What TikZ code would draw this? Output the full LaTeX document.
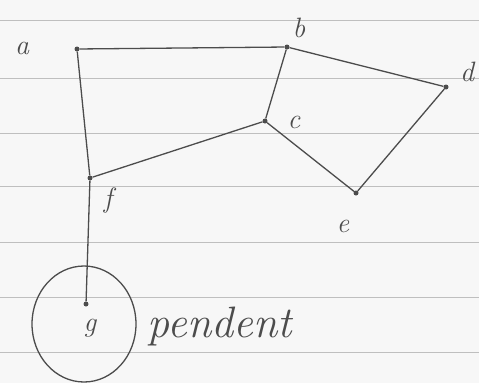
\documentclass[tikz,border=0pt]{standalone}
\usepackage{tikz}
\usetikzlibrary{positioning, shapes.geometric}

\begin{document}
\begin{tikzpicture}[
    x=1pt, y=-1pt,
    vtx/.style={circle, fill=black!70, inner sep=0pt, minimum size=5pt},
    lbl/.style={font=\fontsize{28}{30}\selectfont\itshape, text=black!70, inner sep=1pt},
    edge/.style={draw=black!70, line width=1.3pt},
    rule/.style={draw=black!25, line width=0.9pt},
]
% paper
\fill[black!3] (0,0) rectangle (479,383);
\useasboundingbox (0,0) rectangle (479,383);
\foreach \yy in {20,78,133,186,242,297,352} {
  \draw[rule] (0,\yy) -- (479,\yy);
}

% vertices
\node[vtx] (a) at (77,49) {};
\node[vtx] (b) at (287,47) {};
\node[vtx] (c) at (265,121) {};
\node[vtx] (d) at (446,87) {};
\node[vtx] (e) at (356,193) {};
\node[vtx] (f) at (90,178) {};
\node[vtx] (g) at (86,304) {};

% vertex names
\node[lbl] (la) at (22,48) {a};
\node[lbl] (lb) at (299,28) {b};
\node[lbl] (lc) at (294,122) {c};
\node[lbl] (ld) at (467,72) {d};
\node[lbl] (le) at (343,226) {e};
\node[lbl] (lf) at (108,200) {f};
\node[lbl] (lg) at (90,328) {g};

% edges
\draw[edge] (a) -- (b);
\draw[edge] (a) -- (f);
\draw[edge] (b) -- (c);
\draw[edge] (b) -- (d);
\draw[edge] (c) -- (f);
\draw[edge] (c) -- (e);
\draw[edge] (d) -- (e);
\draw[edge] (f) -- (g);

% pendant vertex mark
\node[draw=black!70, line width=1.3pt, ellipse, minimum width=104pt, minimum height=116pt] (ring) at (84,324) {};
\node[font=\fontsize{44}{46}\selectfont\itshape, text=black!70] (pend) at (220,326) {pendent};

\end{tikzpicture}
\end{document}
